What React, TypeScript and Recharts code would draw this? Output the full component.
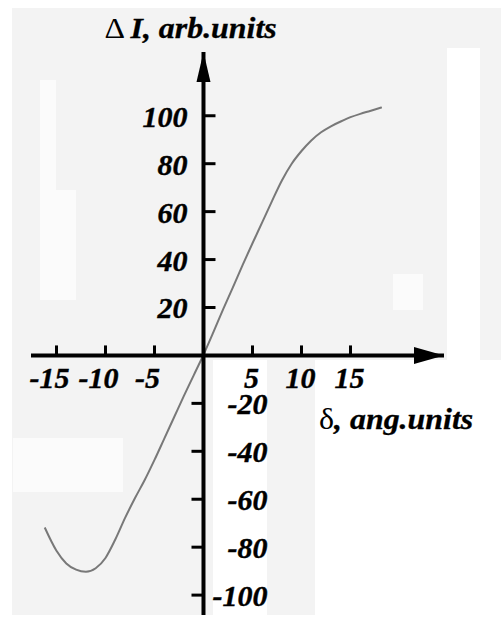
import React from 'react';
import { LineChart, Line, XAxis, YAxis, ReferenceLine, ReferenceDot } from 'recharts';

// ---- data ----
const deltaValues = [-16.2, -15, -14, -13, -12, -11, -10, -9, -8, -7, -6, -5, -4, -3, -2, -1, 0, 1, 2, 3, 4, 5, 6, 7, 8, 9, 10, 11, 12, 13, 14, 15, 16, 17, 18.2];
const intensityValues = [-71.8, -81.5, -86.8, -89.4, -90.3, -88.8, -84.5, -76.8, -67.8, -59.6, -52.0, -43.6, -34.7, -25.8, -16.9, -8.3, 0.3, 9.6, 19.2, 28.4, 37.8, 46.8, 55.6, 64.5, 73.0, 80.0, 85.3, 89.7, 93.1, 95.6, 97.6, 99.4, 100.8, 102.0, 103.5];
const xTickValues = [-15, -10, -5, 5, 10, 15];
const yTickValues = [100, 80, 60, 40, 20, -20, -40, -60, -80, -100];
const xDomain = [-17.6, 24.54];
const yDomain = [-108.3, 126.6];
const yTitleSymbol = '\u0394';
const yTitleRest = 'I, arb.units';
const xTitleSymbol = '\u03B4';
const xTitleRest = ', ang.units';

const data = deltaValues.map((d, i) => ({ delta: d, dI: intensityValues[i] }));

const FONT = '"Liberation Serif", "Times New Roman", Times, serif';

const tickTextProps = {
  fontFamily: FONT,
  fontSize: 30,
  fontWeight: 'bold' as const,
  fontStyle: 'italic' as const,
  fill: '#000',
  stroke: '#000',
  strokeWidth: 0.4,
};

const makeXTick = (value: number) => (props: any) => {
  const { cx, cy } = props;
  return (
    <g>
      <line x1={cx} y1={cy} x2={cx} y2={cy - 10} stroke="#000" strokeWidth={3} />
      <text x={cx + (value < 0 ? -7 : -1)} y={cy + 33} textAnchor="middle" {...tickTextProps}>
        {value}
      </text>
    </g>
  );
};

const makeYTick = (value: number) => (props: any) => {
  const { cx, cy } = props;
  if (value > 0) {
    return (
      <g>
        <line x1={cx} y1={cy} x2={cx + 12} y2={cy} stroke="#000" strokeWidth={3} />
        <text x={cx - 16} y={cy + 11} textAnchor="end" {...tickTextProps}>
          {value}
        </text>
      </g>
    );
  }
  return (
    <g>
      <line x1={cx - 12} y1={cy} x2={cx} y2={cy} stroke="#000" strokeWidth={3} />
      <text x={cx + 64} y={cy + 11} textAnchor="end" {...tickTextProps}>
        {value}
      </text>
    </g>
  );
};

const YArrow = (props: any) => {
  const { cx, cy } = props;
  return (
    <g>
      <polygon points={`${cx},${cy} ${cx - 7},${cy + 30} ${cx + 7},${cy + 30}`} fill="#000" />
      <text
        transform={`translate(${cx - 99},${cy - 14}) scale(1.1,1)`}
        x={0}
        y={0}
        fontFamily={FONT}
        fontSize={29}
        fill="#000"
      >
        <tspan fontWeight="normal" fontStyle="normal">{yTitleSymbol}</tspan>
        <tspan fontWeight="bold" fontStyle="italic" dx={5} stroke="#000" strokeWidth={0.3}>{yTitleRest}</tspan>
      </text>
    </g>
  );
};

const XArrow = (props: any) => {
  const { cx, cy } = props;
  return (
    <g>
      <polygon points={`${cx},${cy} ${cx - 30},${cy - 8.5} ${cx - 30},${cy + 8.5}`} fill="#000" />
      <text
        transform={`translate(${cx - 125},${cy + 74}) scale(1.1,1)`}
        x={0}
        y={0}
        fontFamily={FONT}
        fontSize={29}
        fill="#000"
      >
        <tspan fontWeight="normal" fontStyle="normal">{xTitleSymbol}</tspan>
        <tspan fontWeight="bold" fontStyle="italic" stroke="#000" strokeWidth={0.3}>{xTitleRest}</tspan>
      </text>
    </g>
  );
};

const GREY = '#f3f3f3';
const LIGHT = '#fbfbfb';
const bgRects: { l: number; t: number; w: number; h: number; c: string }[] = [
  { l: 12, t: 8, w: 489, h: 40, c: GREY },
  { l: 12, t: 48, w: 435, h: 312, c: GREY },
  { l: 480, t: 48, w: 21, h: 312, c: GREY },
  { l: 12, t: 360, w: 201, h: 255, c: GREY },
  { l: 267, t: 360, w: 48, h: 255, c: GREY },
  { l: 40, t: 80, w: 16, h: 220, c: LIGHT },
  { l: 56, t: 190, w: 20, h: 110, c: LIGHT },
  { l: 13, t: 438, w: 110, h: 54, c: LIGHT },
  { l: 393, t: 274, w: 30, h: 36, c: LIGHT },
];

export default function App() {
  return (
    <div style={{ position: 'absolute', left: 0, top: 0, width: 501, height: 624, background: '#ffffff', overflow: 'hidden' }}>
      {bgRects.map((r, i) => (
        <div key={i} style={{ position: 'absolute', left: r.l, top: r.t, width: r.w, height: r.h, background: r.c }} />
      ))}
      <div style={{ position: 'absolute', left: 0, top: 0 }}>
        <LineChart width={501} height={624} data={data} margin={{ top: 52, right: 57, bottom: 9, left: 31 }}>
          <XAxis dataKey="delta" type="number" domain={xDomain} allowDataOverflow hide />
          <YAxis type="number" domain={yDomain} allowDataOverflow hide />
          <Line
            dataKey="dI"
            type="monotone"
            stroke="#787878"
            strokeWidth={2}
            dot={false}
            activeDot={false}
            isAnimationActive={false}
          />
          <ReferenceLine x={0} stroke="#000" strokeWidth={4} ifOverflow="visible" />
          <ReferenceLine y={0} stroke="#000" strokeWidth={4} ifOverflow="visible" />
          {xTickValues.map((v) => (
            <ReferenceDot key={`x${v}`} x={v} y={0} ifOverflow="visible" shape={makeXTick(v)} />
          ))}
          {yTickValues.map((v) => (
            <ReferenceDot key={`y${v}`} x={0} y={v} ifOverflow="visible" shape={makeYTick(v)} />
          ))}
          <ReferenceDot x={0} y={yDomain[1]} ifOverflow="visible" shape={YArrow} />
          <ReferenceDot x={xDomain[1]} y={0} ifOverflow="visible" shape={XArrow} />
        </LineChart>
      </div>
    </div>
  );
}
